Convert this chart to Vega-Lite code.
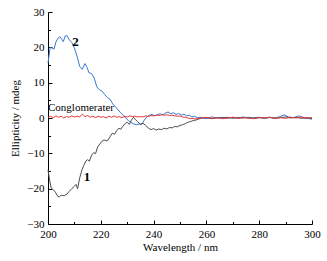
{
  "$schema": "https://vega.github.io/schema/vega-lite/v6.json",
  "width": 264,
  "height": 212,
  "autosize": "none",
  "padding": {"left": 48, "top": 12, "right": 15, "bottom": 37},
  "background": "white",
  "config": {
    "view": {"stroke": null},
    "axis": {
      "grid": false,
      "domainColor": "black",
      "tickColor": "black",
      "labelColor": "black",
      "titleColor": "black",
      "labelFont": "Liberation Serif",
      "titleFont": "Liberation Serif",
      "labelFontSize": 11,
      "titleFontSize": 11,
      "titleFontWeight": "normal",
      "labelFlush": false,
      "labelOverlap": false
    }
  },
  "datasets": {
    "curves": [
      {"w":200,"v":15.5,"s":"2"},{"w":200.8,"v":20,"s":"2"},{"w":201.5,"v":19.8,"s":"2"},{"w":202.3,"v":19.5,"s":"2"},{"w":203,"v":21.5,"s":"2"},{"w":203.8,"v":22.6,"s":"2"},{"w":204.5,"v":23,"s":"2"},{"w":205.2,"v":22.3,"s":"2"},{"w":205.8,"v":21.6,"s":"2"},{"w":206.5,"v":23.2,"s":"2"},{"w":207.2,"v":23.3,"s":"2"},{"w":208,"v":22.2,"s":"2"},{"w":209,"v":21.4,"s":"2"},{"w":210,"v":19.8,"s":"2"},{"w":211,"v":17.5,"s":"2"},{"w":212,"v":14.6,"s":"2"},{"w":213,"v":13.8,"s":"2"},{"w":214,"v":15.4,"s":"2"},{"w":214.8,"v":14.3,"s":"2"},{"w":215.5,"v":12.8,"s":"2"},{"w":216.5,"v":12.6,"s":"2"},{"w":217.5,"v":11.3,"s":"2"},{"w":218.5,"v":8.8,"s":"2"},{"w":219.5,"v":8.0,"s":"2"},{"w":220.5,"v":7.6,"s":"2"},{"w":221.5,"v":6.6,"s":"2"},{"w":222.5,"v":5.8,"s":"2"},{"w":223.5,"v":5.3,"s":"2"},{"w":224.5,"v":4.0,"s":"2"},{"w":225.5,"v":3.2,"s":"2"},{"w":226.5,"v":2.3,"s":"2"},{"w":227.5,"v":1.5,"s":"2"},{"w":228.5,"v":0.7,"s":"2"},{"w":229.5,"v":0,"s":"2"},{"w":230.5,"v":-0.8,"s":"2"},{"w":231.5,"v":-1.3,"s":"2"},{"w":232.5,"v":-1.7,"s":"2"},{"w":233.5,"v":-1.9,"s":"2"},{"w":234.5,"v":-1.7,"s":"2"},{"w":235.5,"v":-1.8,"s":"2"},{"w":236.5,"v":-0.6,"s":"2"},{"w":237.5,"v":0.4,"s":"2"},{"w":238.5,"v":0.8,"s":"2"},{"w":239.5,"v":1.0,"s":"2"},{"w":240.5,"v":0.6,"s":"2"},{"w":241.5,"v":1.0,"s":"2"},{"w":242.5,"v":1.2,"s":"2"},{"w":243.5,"v":0.9,"s":"2"},{"w":244.5,"v":1.4,"s":"2"},{"w":245.5,"v":1.7,"s":"2"},{"w":246.5,"v":1.2,"s":"2"},{"w":247.5,"v":1.5,"s":"2"},{"w":248.5,"v":1.0,"s":"2"},{"w":249.5,"v":1.3,"s":"2"},{"w":250.5,"v":0.8,"s":"2"},{"w":251.5,"v":1.1,"s":"2"},{"w":252.5,"v":0.6,"s":"2"},{"w":253.5,"v":0.8,"s":"2"},{"w":254.5,"v":0.3,"s":"2"},{"w":255.5,"v":0.5,"s":"2"},{"w":256.5,"v":0.1,"s":"2"},{"w":258,"v":0.2,"s":"2"},{"w":260,"v":-0.2,"s":"2"},{"w":262,"v":0.3,"s":"2"},{"w":264,"v":0.0,"s":"2"},{"w":266,"v":0.2,"s":"2"},{"w":268,"v":-0.1,"s":"2"},{"w":270,"v":0.2,"s":"2"},{"w":272,"v":0.0,"s":"2"},{"w":274,"v":0.3,"s":"2"},{"w":276,"v":-0.1,"s":"2"},{"w":278,"v":0.1,"s":"2"},{"w":280,"v":0.2,"s":"2"},{"w":282,"v":-0.1,"s":"2"},{"w":284,"v":0.1,"s":"2"},{"w":286,"v":0.0,"s":"2"},{"w":288,"v":0.4,"s":"2"},{"w":289.5,"v":0.9,"s":"2"},{"w":291,"v":0.3,"s":"2"},{"w":293,"v":0.1,"s":"2"},{"w":295,"v":0.6,"s":"2"},{"w":297,"v":0.0,"s":"2"},{"w":299,"v":-0.2,"s":"2"},{"w":300,"v":-0.3,"s":"2"},

      {"w":200,"v":-14.7,"s":"1"},{"w":200.6,"v":-17.5,"s":"1"},{"w":201.2,"v":-19.8,"s":"1"},{"w":202,"v":-20.3,"s":"1"},{"w":202.8,"v":-21,"s":"1"},{"w":203.5,"v":-22,"s":"1"},{"w":204.2,"v":-22.4,"s":"1"},{"w":205,"v":-21.8,"s":"1"},{"w":205.7,"v":-22.0,"s":"1"},{"w":206.4,"v":-21.9,"s":"1"},{"w":207.2,"v":-21.5,"s":"1"},{"w":208,"v":-20.8,"s":"1"},{"w":209,"v":-20.0,"s":"1"},{"w":210,"v":-19.3,"s":"1"},{"w":210.6,"v":-18.8,"s":"1"},{"w":211.2,"v":-20.0,"s":"1"},{"w":212,"v":-17,"s":"1"},{"w":212.8,"v":-14.8,"s":"1"},{"w":213.5,"v":-13.5,"s":"1"},{"w":214.3,"v":-12.2,"s":"1"},{"w":215,"v":-11.8,"s":"1"},{"w":215.7,"v":-12.2,"s":"1"},{"w":216.5,"v":-10.5,"s":"1"},{"w":217.3,"v":-9.8,"s":"1"},{"w":218,"v":-10.1,"s":"1"},{"w":218.8,"v":-8.2,"s":"1"},{"w":219.6,"v":-7.4,"s":"1"},{"w":220.4,"v":-6.6,"s":"1"},{"w":221.2,"v":-6.2,"s":"1"},{"w":222,"v":-6.5,"s":"1"},{"w":222.8,"v":-6.2,"s":"1"},{"w":223.6,"v":-5.2,"s":"1"},{"w":224.4,"v":-4.3,"s":"1"},{"w":225.2,"v":-4.6,"s":"1"},{"w":226,"v":-3.6,"s":"1"},{"w":226.8,"v":-2.9,"s":"1"},{"w":227.6,"v":-3.2,"s":"1"},{"w":228.4,"v":-2.3,"s":"1"},{"w":229.2,"v":-1.6,"s":"1"},{"w":230,"v":-1.2,"s":"1"},{"w":230.8,"v":-1.8,"s":"1"},{"w":231.6,"v":-0.6,"s":"1"},{"w":232.4,"v":0.2,"s":"1"},{"w":233.2,"v":-0.5,"s":"1"},{"w":234,"v":-1.1,"s":"1"},{"w":235,"v":-1.8,"s":"1"},{"w":236,"v":-1.5,"s":"1"},{"w":237,"v":-2.1,"s":"1"},{"w":238,"v":-2.8,"s":"1"},{"w":239,"v":-3.3,"s":"1"},{"w":240,"v":-3.0,"s":"1"},{"w":241,"v":-3.4,"s":"1"},{"w":242,"v":-3.1,"s":"1"},{"w":243,"v":-3.3,"s":"1"},{"w":244,"v":-2.9,"s":"1"},{"w":245,"v":-3.1,"s":"1"},{"w":246,"v":-2.7,"s":"1"},{"w":247,"v":-2.8,"s":"1"},{"w":248,"v":-2.4,"s":"1"},{"w":249,"v":-2.5,"s":"1"},{"w":250,"v":-2.1,"s":"1"},{"w":251,"v":-1.9,"s":"1"},{"w":252,"v":-1.6,"s":"1"},{"w":253,"v":-1.2,"s":"1"},{"w":254,"v":-1.0,"s":"1"},{"w":255,"v":-0.7,"s":"1"},{"w":256,"v":-0.6,"s":"1"},{"w":257,"v":-0.3,"s":"1"},{"w":258,"v":-0.1,"s":"1"},{"w":260,"v":0.1,"s":"1"},{"w":262,"v":-0.2,"s":"1"},{"w":264,"v":0.1,"s":"1"},{"w":266,"v":0.0,"s":"1"},{"w":268,"v":0.2,"s":"1"},{"w":270,"v":-0.1,"s":"1"},{"w":272,"v":0.1,"s":"1"},{"w":274,"v":0.0,"s":"1"},{"w":276,"v":0.2,"s":"1"},{"w":278,"v":-0.1,"s":"1"},{"w":280,"v":0.1,"s":"1"},{"w":282,"v":0.0,"s":"1"},{"w":284,"v":0.2,"s":"1"},{"w":286,"v":-0.1,"s":"1"},{"w":288,"v":0.1,"s":"1"},{"w":290,"v":0.3,"s":"1"},{"w":292,"v":0.0,"s":"1"},{"w":294,"v":0.2,"s":"1"},{"w":296,"v":-0.1,"s":"1"},{"w":298,"v":0.1,"s":"1"},{"w":300,"v":-0.2,"s":"1"},

      {"w":200,"v":0.2,"s":"C"},{"w":201,"v":0.5,"s":"C"},{"w":202,"v":0.1,"s":"C"},{"w":203,"v":0.6,"s":"C"},{"w":204,"v":0.2,"s":"C"},{"w":205,"v":0.5,"s":"C"},{"w":206,"v":0.0,"s":"C"},{"w":207,"v":0.4,"s":"C"},{"w":208,"v":0.2,"s":"C"},{"w":209,"v":0.6,"s":"C"},{"w":210,"v":0.3,"s":"C"},{"w":211,"v":0.5,"s":"C"},{"w":212,"v":0.3,"s":"C"},{"w":213,"v":1.1,"s":"C"},{"w":214,"v":0.4,"s":"C"},{"w":215,"v":0.7,"s":"C"},{"w":216,"v":0.2,"s":"C"},{"w":217,"v":0.5,"s":"C"},{"w":218,"v":0.1,"s":"C"},{"w":219,"v":0.5,"s":"C"},{"w":220,"v":0.2,"s":"C"},{"w":221,"v":0.4,"s":"C"},{"w":222,"v":0.0,"s":"C"},{"w":223,"v":0.5,"s":"C"},{"w":224,"v":0.2,"s":"C"},{"w":225,"v":0.6,"s":"C"},{"w":226,"v":0.2,"s":"C"},{"w":227,"v":0.4,"s":"C"},{"w":228,"v":0.1,"s":"C"},{"w":229,"v":0.5,"s":"C"},{"w":230,"v":0.3,"s":"C"},{"w":231,"v":0.6,"s":"C"},{"w":232,"v":0.4,"s":"C"},{"w":233,"v":0.5,"s":"C"},{"w":234,"v":0.3,"s":"C"},{"w":235,"v":0.4,"s":"C"},{"w":236,"v":0.3,"s":"C"},{"w":237,"v":0.6,"s":"C"},{"w":238,"v":0.4,"s":"C"},{"w":239,"v":0.7,"s":"C"},{"w":240,"v":0.6,"s":"C"},{"w":241,"v":0.8,"s":"C"},{"w":242,"v":0.7,"s":"C"},{"w":243,"v":0.9,"s":"C"},{"w":244,"v":0.8,"s":"C"},{"w":245,"v":0.9,"s":"C"},{"w":246,"v":0.7,"s":"C"},{"w":247,"v":0.8,"s":"C"},{"w":248,"v":0.6,"s":"C"},{"w":249,"v":0.5,"s":"C"},{"w":250,"v":0.6,"s":"C"},{"w":251,"v":0.3,"s":"C"},{"w":252,"v":0.2,"s":"C"},{"w":253,"v":0.0,"s":"C"},{"w":254,"v":-0.2,"s":"C"},{"w":255,"v":-0.1,"s":"C"},{"w":256,"v":-0.3,"s":"C"},{"w":258,"v":0.0,"s":"C"},{"w":260,"v":0.2,"s":"C"},{"w":262,"v":-0.1,"s":"C"},{"w":264,"v":0.1,"s":"C"},{"w":266,"v":-0.2,"s":"C"},{"w":268,"v":0.0,"s":"C"},{"w":270,"v":0.2,"s":"C"},{"w":272,"v":-0.1,"s":"C"},{"w":274,"v":0.1,"s":"C"},{"w":276,"v":0.0,"s":"C"},{"w":278,"v":-0.2,"s":"C"},{"w":280,"v":0.1,"s":"C"},{"w":282,"v":0.0,"s":"C"},{"w":284,"v":0.2,"s":"C"},{"w":286,"v":-0.1,"s":"C"},{"w":288,"v":0.1,"s":"C"},{"w":290,"v":-0.1,"s":"C"},{"w":292,"v":0.2,"s":"C"},{"w":294,"v":0.0,"s":"C"},{"w":296,"v":0.3,"s":"C"},{"w":298,"v":0.0,"s":"C"},{"w":300,"v":0.1,"s":"C"}
    ],
    "nums": [
      {"w":210.4,"v":21.6,"t":"2"},
      {"w":214.8,"v":-16.8,"t":"1"}
    ],
    "names": [
      {"w":212.5,"v":2.9,"t":"Conglomerater"}
    ]
  },
  "layer": [
    {
      "data": {"name": "curves"},
      "mark": {"type": "line", "strokeWidth": 1, "interpolate": "linear"},
      "encoding": {
        "x": {
          "field": "w", "type": "quantitative",
          "scale": {"domain": [200, 300], "nice": false, "zero": false},
          "axis": {
            "title": "Wavelength / nm",
            "values": [200,220,240,260,280,300],
            "ticks": false,
            "labelPadding": 4,
            "titlePadding": 2
          }
        },
        "y": {
          "field": "v", "type": "quantitative",
          "scale": {"domain": [-30, 30], "nice": false},
          "axis": {
            "title": "Ellipticity / mdeg",
            "values": [-30,-20,-10,0,10,20,30],
            "ticks": false,
            "labelPadding": 4,
            "titlePadding": 6
          }
        },
        "color": {
          "field": "s", "type": "nominal",
          "scale": {"domain": ["1", "2", "C"], "range": ["#4d4d4d", "#3a78d0", "#e8353a"]},
          "legend": null
        }
      }
    },
    {
      "data": {"name": "nums"},
      "mark": {"type": "text", "font": "Liberation Serif", "fontSize": 13, "fontWeight": "bold", "color": "black", "align": "center", "baseline": "middle"},
      "encoding": {
        "x": {
          "field": "w", "type": "quantitative",
          "axis": {
            "orient": "top", "offset": -212, "title": null, "labels": false, "domain": false,
            "values": [200,210,220,230,240,250,260,270,280,290,300],
            "tickSize": {"condition": {"test": "datum.value % 20 === 0", "value": 4}, "value": 2.5},
            "tickWidth": 1
          }
        },
        "y": {
          "field": "v", "type": "quantitative",
          "axis": {
            "orient": "right", "offset": -264, "title": null, "labels": false, "domain": false,
            "values": [-30,-25,-20,-15,-10,-5,0,5,10,15,20,25,30],
            "tickSize": {"condition": {"test": "datum.value % 10 === 0", "value": 4}, "value": 2.5},
            "tickWidth": 1
          }
        },
        "text": {"field": "t"}
      }
    },
    {
      "data": {"name": "names"},
      "mark": {"type": "text", "font": "Liberation Serif", "fontSize": 11, "color": "black", "align": "center", "baseline": "middle"},
      "encoding": {
        "x": {"field": "w", "type": "quantitative", "axis": null},
        "y": {"field": "v", "type": "quantitative", "axis": null},
        "text": {"field": "t"}
      }
    }
  ],
  "resolve": {"axis": {"x": "independent", "y": "independent"}}
}
